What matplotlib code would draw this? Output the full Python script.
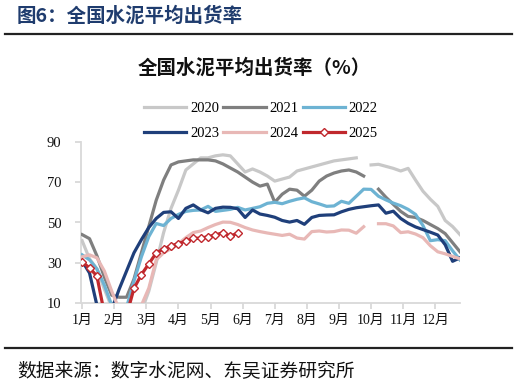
import numpy as np
import matplotlib
matplotlib.use("Agg")
import matplotlib.pyplot as plt
from matplotlib.lines import Line2D

nan = np.nan
months = ["1月", "2月", "3月", "4月", "5月", "6月", "7月", "8月", "9月", "10月", "11月", "12月"]
years = ["2020", "2021", "2022", "2023", "2024", "2025"]

s2020 = [41, 32, 27, 17, 8, 2, 1, 2, 6, 16, 30, 45, 57, 66, 76, 79, 82, 82, 83, 83.5,
         83, 79, 75, 76.5, 75, 73, 70.5, 71.5, 72.5, 75.5, 76.5, 77.5, 78.5, 79.5, 80.5, 81,
         81.5, 82, nan, 78.5, 78.8, 77.8, 76.8, 75.5, 76.8, 71, 65.5, 61.5, 58, 51, 48, 44]
s2021 = [44, 42, 33.5, 23, 14, 13, 13, 22, 35, 48, 61, 71, 78.5, 80, 80.5, 81, 81, 81, 80.5, 79,
         77, 75, 72.5, 70, 68, 69, 60, 64, 66.5, 66, 63, 66, 70.5, 73, 74.5, 75.5,
         76, 75, 73, nan, 66.5, 62.5, 59, 55.5, 53, 52.5, 51, 49, 47, 44.5, 40, 35.5]
s2022 = [34, 31.5, 27, 19, 9, 2, 8, 21, 33, 43, 49.5, 48.5, 52, 54, 55.5, 56, 56.2, 58, 55.5, 56,
         56.5, 57.5, 56.2, 57, 57.8, 59.5, 60, 59.3, 60.5, 61.5, 62.2, 60.3, 59.2, 58, 58.2, 60.5,
         59.5, 63, 66.5, 66.4, 63, 61.2, 59.6, 58.3, 56.5, 54, 48.5, 41, 41.5, 41, 36, 31.5]
s2023 = [31, 25, 9, 0, 7, 17, 26, 35, 41.5, 47.5, 52, 55, 55.3, 52, 57, 58.7, 56.3, 54.8, 57, 57.6,
         57.5, 56.8, 52.5, 56.2, 54.2, 53.5, 52.6, 51, 50.2, 51, 49.1, 52.5, 53.5, 53.7, 53.8, 55.3,
         56.5, 57.3, 57.8, 58.3, 58.7, 54.6, 55.6, 52, 49.6, 47.8, 46.5, 45.2, 43.8, 39, 30.8, 32.5]
s2024 = [33, 34, 32.5, 26, 16, 7, 0, 0, 9, 17.5, 31.5, 35, 37, 39.5, 42.5, 45, 45.8, 47.5, 49, 50.2,
         50.1, 49, 47.5, 46.3, 45.5, 44.8, 44.2, 43.6, 44.2, 42.3, 41.8, 45.5, 45.8, 45.3, 45.5, 46.3,
         46.2, 44.7, 47.9, nan, 49.4, 49.4, 48.3, 45, 45.4, 44.3, 42.5, 38.5, 35.5, 34.5, 33.2, 32]
s2025 = [30.5, 27.5, 23.5, 5, 0, 0, 4, 17.4, 24.2, 29.5, 34.9, 37, 38.4, 39.6, 40.8, 42.2,
         42.2, 43, 43.8, 45, 43.3, 44.7]

series = [s2020, s2021, s2022, s2023, s2024, s2025]
colors = ["#c8c8c8", "#7f7f7f", "#6db3d3", "#1f3f7a", "#e8b8b6", "#c0282d"]

fig = plt.figure(figsize=(5.18, 3.87), dpi=100)
ax = fig.add_axes([81 / 518, 1 - 303.3 / 387, (460 - 81) / 518, (303.3 - 141.7) / 387])

for name, vals, c in zip(years, series, colors):
    x = np.arange(len(vals))
    if name == "2025":
        ax.plot(x, vals, color=c, lw=2.3, marker="D", ms=4.4, mfc="white", mec=c,
                mew=1.0, zorder=5, clip_on=True)
    else:
        ax.plot(x, vals, color=c, lw=2.3, zorder=3, clip_on=True)

ax.set_ylim(10, 90)
ax.set_xlim(-0.15, 51)
ax.set_yticks([10, 30, 50, 70, 90])
ax.set_xticks([i * 52 / 12 for i in range(12)])
ax.set_xticklabels(months)

for s in ["top", "right"]:
    ax.spines[s].set_visible(False)
for s in ["left", "bottom"]:
    ax.spines[s].set_color("#d9d9d9")
    ax.spines[s].set_linewidth(1.3)
ax.tick_params(axis="both", colors="#d9d9d9", length=4, width=1.3, labelcolor="#111111")
ax.tick_params(axis="y", pad=10)
ax.tick_params(axis="x", pad=4)
for lab in ax.get_yticklabels():
    lab.set_family(["Liberation Serif"])
    lab.set_fontsize(10.5)
for lab in ax.get_xticklabels():
    lab.set_family(["Liberation Serif", "Noto Sans CJK SC"])
    lab.set_fontsize(10)

handles = {}
for name, c in zip(years, colors):
    if name == "2025":
        handles[name] = Line2D([], [], color=c, lw=2.3, marker="D", ms=4.4, mfc="white", mec=c, mew=1.0)
    else:
        handles[name] = Line2D([], [], color=c, lw=2.3)
order = ["2020", "2023", "2021", "2024", "2022", "2025"]
leg = fig.legend([handles[k] for k in order], order, ncol=3, loc="center",
                 bbox_to_anchor=(261 / 518, 1 - 121 / 387),
                 frameon=False, handlelength=2.9, handletextpad=0.25, columnspacing=0.3,
                 labelspacing=0.85, prop={"family": "Liberation Serif", "size": 10.5})

fig.text(17 / 518, 1 - 16 / 387, "图6：全国水泥平均出货率", family=["Noto Sans CJK SC"],
         fontsize=14, fontweight="bold", color="#1f3c6e", ha="left", va="center")
fig.add_artist(Line2D([5 / 518, 512 / 518], [1 - 33.5 / 387, 1 - 33.5 / 387], color="#222222", lw=1.6))
fig.text(254 / 518, 1 - 68 / 387, "全国水泥平均出货率（%）", family=["Noto Sans CJK SC"],
         fontsize=14, fontweight="bold", color="#111111", ha="center", va="center")
fig.add_artist(Line2D([5 / 518, 512 / 518], [1 - 348 / 387, 1 - 348 / 387], color="#222222", lw=1.6))
fig.text(17 / 518, 1 - 372 / 387, "数据来源：数字水泥网、东吴证券研究所", family=["Noto Sans CJK SC"],
         fontsize=13.5, color="#111111", ha="left", va="center")

fig.savefig("out.png", dpi=100)
